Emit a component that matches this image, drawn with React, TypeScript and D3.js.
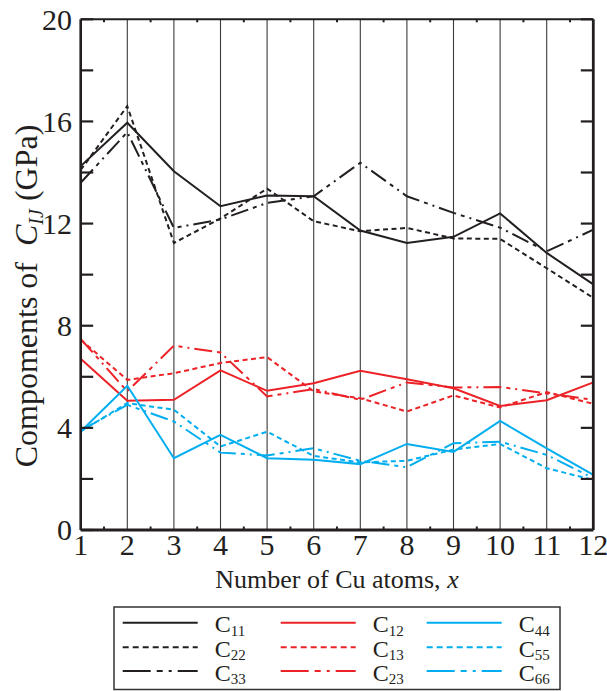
import React from "react";
import * as d3 from "d3";

const xValues = [1, 2, 3, 4, 5, 6, 7, 8, 9, 10, 11, 12];
const yTicks = [0, 4, 8, 12, 16, 20];

const C11 = [14.25, 15.95, 14.05, 12.68, 13.1, 13.07, 11.73, 11.24, 11.48, 12.4, 10.85, 9.62];
const C22 = [14.1, 16.6, 11.24, 12.2, 13.37, 12.09, 11.7, 11.83, 11.42, 11.4, 10.25, 9.09];
const C33 = [13.6, 15.58, 11.83, 12.16, 12.81, 13.07, 14.38, 13.07, 12.42, 11.84, 10.91, 11.76];
const C12 = [6.71, 5.06, 5.1, 6.25, 5.45, 5.75, 6.24, 5.9, 5.55, 4.86, 5.08, 5.78];
const C13 = [7.45, 5.88, 6.14, 6.54, 6.77, 5.43, 5.16, 4.64, 5.27, 4.8, 5.4, 4.94];
const C23 = [7.48, 5.43, 7.22, 6.95, 5.23, 5.52, 5.1, 5.78, 5.58, 5.6, 5.35, 5.1];
const C44 = [3.86, 5.65, 2.81, 3.73, 2.81, 2.75, 2.58, 3.37, 3.06, 4.27, 3.2, 2.16];
const C55 = [3.86, 4.97, 4.71, 3.27, 3.85, 2.9, 2.65, 2.71, 3.15, 3.37, 2.42, 1.96];
const C66 = [3.9, 4.9, 4.25, 3.03, 2.92, 3.2, 2.71, 2.46, 3.4, 3.46, 2.94, 2.03];

const BLACK = "#231f20";
const RED = "#ec2227";
const BLUE = "#00aeef";
const DOT = "5,3.5";
const DASHDOT = "18,5,4,5,2,5";

const seriesList = [
  { name: "11", values: C11, color: BLACK, dash: null },
  { name: "22", values: C22, color: BLACK, dash: DOT },
  { name: "33", values: C33, color: BLACK, dash: DASHDOT },
  { name: "12", values: C12, color: RED, dash: null },
  { name: "13", values: C13, color: RED, dash: DOT },
  { name: "23", values: C23, color: RED, dash: DASHDOT },
  { name: "44", values: C44, color: BLUE, dash: null },
  { name: "55", values: C55, color: BLUE, dash: DOT },
  { name: "66", values: C66, color: BLUE, dash: DASHDOT },
];

const FONT = "'Liberation Serif', 'Times New Roman', serif";

export default function App() {
  const W = 607, H = 691;
  const left = 80.7, right = 593.3, top = 19.3, bottom = 530;
  const x = d3.scaleLinear().domain([1, 12]).range([left, right]);
  const y = d3.scaleLinear().domain([0, 20]).range([bottom, top]);
  const line = d3.line<number>().x((_, i) => x(xValues[i])).y((d) => y(d));

  const minorY = d3.range(0, 21, 2);
  const minorX = d3.range(1.5, 12, 1);

  const legendCols = [122.7, 280.7, 426.7];
  const legendRows = [622.7, 647.3, 671];

  return (
    <svg width={W} height={H} style={{ position: "absolute", left: 0, top: 0 }} fontFamily={FONT}>
      <rect x={0} y={0} width={W} height={H} fill="#fff" />
      {/* vertical grid lines */}
      {xValues.slice(1, -1).map((v) => (
        <line key={"g" + v} x1={x(v)} x2={x(v)} y1={top} y2={bottom} stroke="#3a3a3a" strokeWidth={1.1} />
      ))}
      {/* series */}
      {seriesList.map((s) => (
        <path
          key={s.name}
          d={line(s.values) || ""}
          fill="none"
          stroke={s.color}
          strokeWidth={2}
          strokeDasharray={s.dash || undefined}
          strokeLinejoin="miter"
        />
      ))}
      {/* frame */}
      <line x1={left} x2={right} y1={top} y2={top} stroke={BLACK} strokeWidth={2} />
      <line x1={left} x2={right} y1={bottom} y2={bottom} stroke={BLACK} strokeWidth={2.8} />
      <line x1={left} x2={left} y1={top} y2={bottom} stroke={BLACK} strokeWidth={2.6} />
      <line x1={right} x2={right} y1={top} y2={bottom} stroke={BLACK} strokeWidth={2.8} />
      {/* y ticks */}
      {minorY.map((v) => (
        <g key={"yt" + v}>
          <line x1={left} x2={left + 12.5} y1={y(v)} y2={y(v)} stroke={BLACK} strokeWidth={2.2} />
          <line x1={right - 12.5} x2={right} y1={y(v)} y2={y(v)} stroke={BLACK} strokeWidth={2.2} />
        </g>
      ))}
      {/* x minor ticks */}
      {minorX.map((v) => (
        <g key={"xt" + v}>
          <line x1={x(v)} x2={x(v)} y1={top} y2={top + 3} stroke={BLACK} strokeWidth={2} />
          <line x1={x(v)} x2={x(v)} y1={bottom - 3.5} y2={bottom} stroke={BLACK} strokeWidth={2} />
        </g>
      ))}
      {/* y tick labels */}
      {yTicks.map((v) => (
        <text key={"yl" + v} x={72} y={y(v)} dy="0.34em" textAnchor="end" fontSize={30} fill={BLACK}>
          {v}
        </text>
      ))}
      {/* x tick labels */}
      {xValues.map((v) => (
        <text key={"xl" + v} x={x(v)} y={555} textAnchor="middle" fontSize={30} fill={BLACK}>
          {v}
        </text>
      ))}
      {/* x title */}
      <text x={337} y={588} textAnchor="middle" fontSize={26} fill={BLACK}>
        Number of Cu atoms, <tspan fontStyle="italic">x</tspan>
      </text>
      {/* y title */}
      <text transform="translate(37,296) rotate(-90)" textAnchor="middle" fontSize={32} fill={BLACK}>
        Compoments of{"\u00a0\u00a0"}
        <tspan fontStyle="italic">C</tspan>
        <tspan fontStyle="italic" fontSize={20} dy={6}>IJ</tspan>
        <tspan dy={-6}>{"\u00a0"}(GPa)</tspan>
      </text>
      {/* legend */}
      <rect x={114} y={607} width={446} height={82.5} fill="none" stroke="#333" strokeWidth={1.5} />
      {seriesList.map((s, i) => {
        const col = Math.floor(i / 3);
        const row = i % 3;
        const lx = legendCols[col];
        const ly = legendRows[row];
        return (
          <g key={"lg" + s.name}>
            <line x1={lx} x2={lx + 75} y1={ly} y2={ly} stroke={s.color} strokeWidth={2} strokeDasharray={s.dash ? (s.dash === DOT ? "6,4" : "28,6,6,6,3,6") : undefined} />
            <text x={lx + 92} y={ly + 9.5} fontSize={24} fill={BLACK}>
              C<tspan fontSize={15} dy={3.5}>{s.name}</tspan>
            </text>
          </g>
        );
      })}
    </svg>
  );
}
